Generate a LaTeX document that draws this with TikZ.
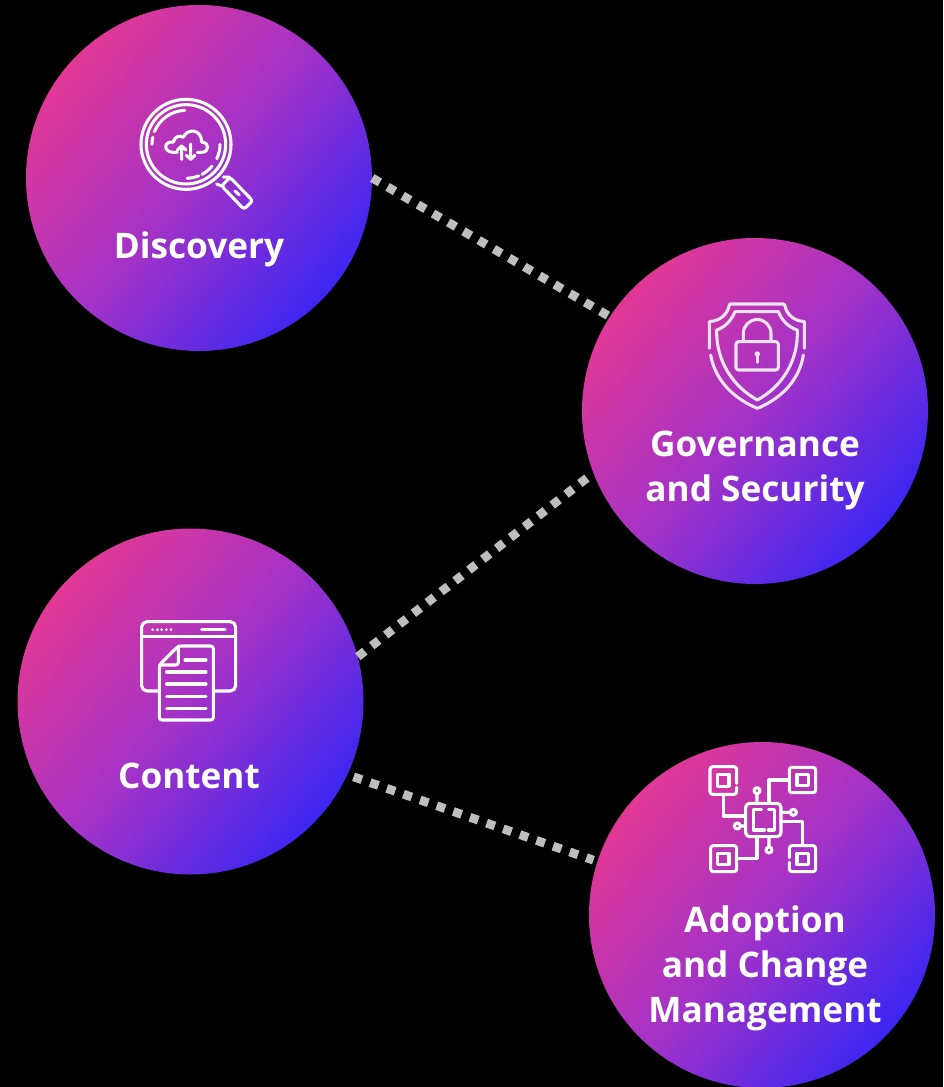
\documentclass[tikz,border=0pt]{standalone}
\usepackage{fontspec}
\setmainfont{Open Sans}
\definecolor{pk}{RGB}{226,56,150}
\definecolor{md}{RGB}{163,50,200}
\definecolor{bl}{RGB}{60,38,242}
\definecolor{dotc}{RGB}{190,190,190}
\definecolor{soft}{RGB}{236,228,238}
\tikzset{
  disc/.style={circle,draw=none,minimum size=259.5pt,inner sep=0pt,top color=pk,bottom color=bl,middle color=md,shading angle=50},
  label/.style={text=white,font=\fontsize{26.4}{33.75}\selectfont\bfseries,align=center,inner sep=0pt},
  link/.style={draw=dotc,line width=6.6pt,dash pattern=on 6.6pt off 6.6pt},
  ico/.style={draw=white,line width=2.3pt,line cap=round,line join=round,fill=none},
  icos/.style={draw=soft,line width=2.3pt,line cap=round,line join=round,fill=none},
  zoomed/.style={shift={#1},scale=1/3}
}
\begin{document}
\begin{tikzpicture}[x=0.75pt,y=-0.75pt]
\fill[black] (0,0) rectangle (943,1087);
\useasboundingbox (0,0) rectangle (943,1087);
\begin{scope}
\clip (0,0) rectangle (943,1087);
\node[disc] (d) at (199,178) {};
\node[disc] (g) at (755,411) {};
\node[disc] (c) at (190.5,701.5) {};
\node[disc] (a) at (762,915) {};
\end{scope}
\draw[link] (d.east) -- (g.147);
\draw[link] (c.15.7) -- (g.201.6);
\draw[link,shorten <=4.8pt,shorten >=3pt] (c.-25.3) -- (a.162.3);
\node[label] (t1) at (199,249) {Discovery};
\node[label] (t2) at (755,470) {Governance\\and Security};
\node[label] (t3) at (189,776) {Content};
\node[label] (t4) at (765,968) {Adoption\\and Change\\Management};
% magnifier
\begin{scope}[zoomed={(120,80)}]
\draw[ico] (198,193) circle (135);
\draw[ico] (198,193) circle (119);
\draw[ico] (198,193) ++(180:102) arc (180:192:102);
\draw[ico] (198,193) ++(202:102) arc (202:268:102);
\draw[ico] (198,193) ++(0:102) arc (0:25:102);
\draw[ico] (198,193) ++(40:102) arc (40:62:102);
\draw[ico] (198,193) ++(68:102) arc (68:88:102);
\draw[ico,rounded corners=2pt] (305,318) -- (330,292) -- (398,362) -- (372,388) -- cycle;
\draw[ico] (290,312) -- (305,318) (310,291) -- (330,292);
\draw[ico] (345,333) -- (358,345);
\draw[ico] (172,217) -- (158,217) .. controls (130,215) and (130,183) .. (160,186)
  .. controls (165,168) and (180,165) .. (190,172) .. controls (200,145) and (245,145) .. (245,186)
  .. controls (270,188) and (268,217) .. (245,217) -- (232,217);
\draw[ico] (185,238) -- (185,198) (172,210) -- (185,198) -- (198,210);
\draw[ico] (212,192) -- (212,238) (199,226) -- (212,238) -- (225,226);
\end{scope}
% shield
\begin{scope}[zoomed={(690,290)}]
\draw[icos] (58,175) -- (58,95) .. controls (90,92) and (112,75) .. (118,45) -- (120,42) -- (280,42) -- (284,45)
  .. controls (290,75) and (312,92) .. (343,95) -- (343,175);
\draw[icos] (62,195) .. controls (75,270) and (130,325) .. (202,355) .. controls (275,325) and (328,270) .. (340,195);
\draw[icos] (135,65) -- (265,65) .. controls (275,90) and (295,112) .. (322,120)
  .. controls (325,215) and (275,290) .. (202,330) .. controls (130,290) and (78,215) .. (80,120)
  .. controls (105,112) and (125,90) .. (135,65);
\draw[icos,rounded corners=2pt] (138,155) rectangle (265,240);
\draw[icos] (160,155) -- (160,130) arc (180:360:41.5) -- (243,155);
\fill[soft] (202,192) circle (8);
\draw[icos] (202,192) -- (202,217);
\end{scope}
% document
\begin{scope}[zoomed={(125,610)}]
\draw[ico,rounded corners=4pt] (100,243) -- (50,243) -- (50,35) -- (332,35) -- (332,243) -- (268,243);
\draw[ico] (50,80) -- (332,80);
\foreach \x in {83,97,110,124,138} \fill[white] (\x,59) circle (4.5);
\draw[ico] (230,59) -- (300,59);
\draw[ico,rounded corners=2pt] (160,108) -- (265,108) -- (265,330) -- (103,330) -- (103,165) -- cycle;
\draw[ico,rounded corners=2pt] (160,108) -- (160,165) -- (103,165);
\draw[ico] (180,150) -- (243,150) (125,186) -- (243,186) (125,222) -- (243,222) (125,259) -- (243,259) (125,296) -- (243,296);
\end{scope}
% chip
\begin{scope}[zoomed={(695,755)}]
\draw[ico,rounded corners=2pt] (125,85) -- (125,35) -- (45,35) -- (45,118) -- (125,118) -- (125,97);
\draw[ico] (68,58) rectangle (102,94);
\draw[ico,rounded corners=2pt] (283,37) rectangle (362,113);
\draw[ico] (306,58) rectangle (340,92);
\draw[ico,rounded corners=2pt] (47,272) rectangle (125,350);
\draw[ico] (68,295) rectangle (102,329);
\draw[ico,rounded corners=2pt] (283,308) -- (283,272) -- (362,272) -- (362,350) -- (283,350) -- (283,322);
\draw[ico] (306,295) rectangle (340,329);
\draw[ico,rounded corners=3pt] (152,145) rectangle (258,245);
\draw[ico] (200,163) -- (175,163) -- (175,225) -- (208,225);
\draw[ico] (220,163) -- (238,163) -- (238,225) -- (220,225);
\draw[ico] (85,118) -- (85,183) -- (152,183);
\draw[ico] (283,75) -- (222,75) -- (222,145);
\draw[ico] (186,107) circle (9) (186,116) -- (186,145);
\draw[ico] (295,172) circle (9) (258,172) -- (286,172);
\draw[ico] (127,213) circle (9) (136,213) -- (152,213);
\draw[ico] (222,285) circle (9) (222,245) -- (222,276);
\draw[ico] (125,310) -- (186,310) -- (186,245);
\draw[ico] (258,200) -- (322,200) -- (322,272);
\end{scope}
\end{tikzpicture}
\end{document}
